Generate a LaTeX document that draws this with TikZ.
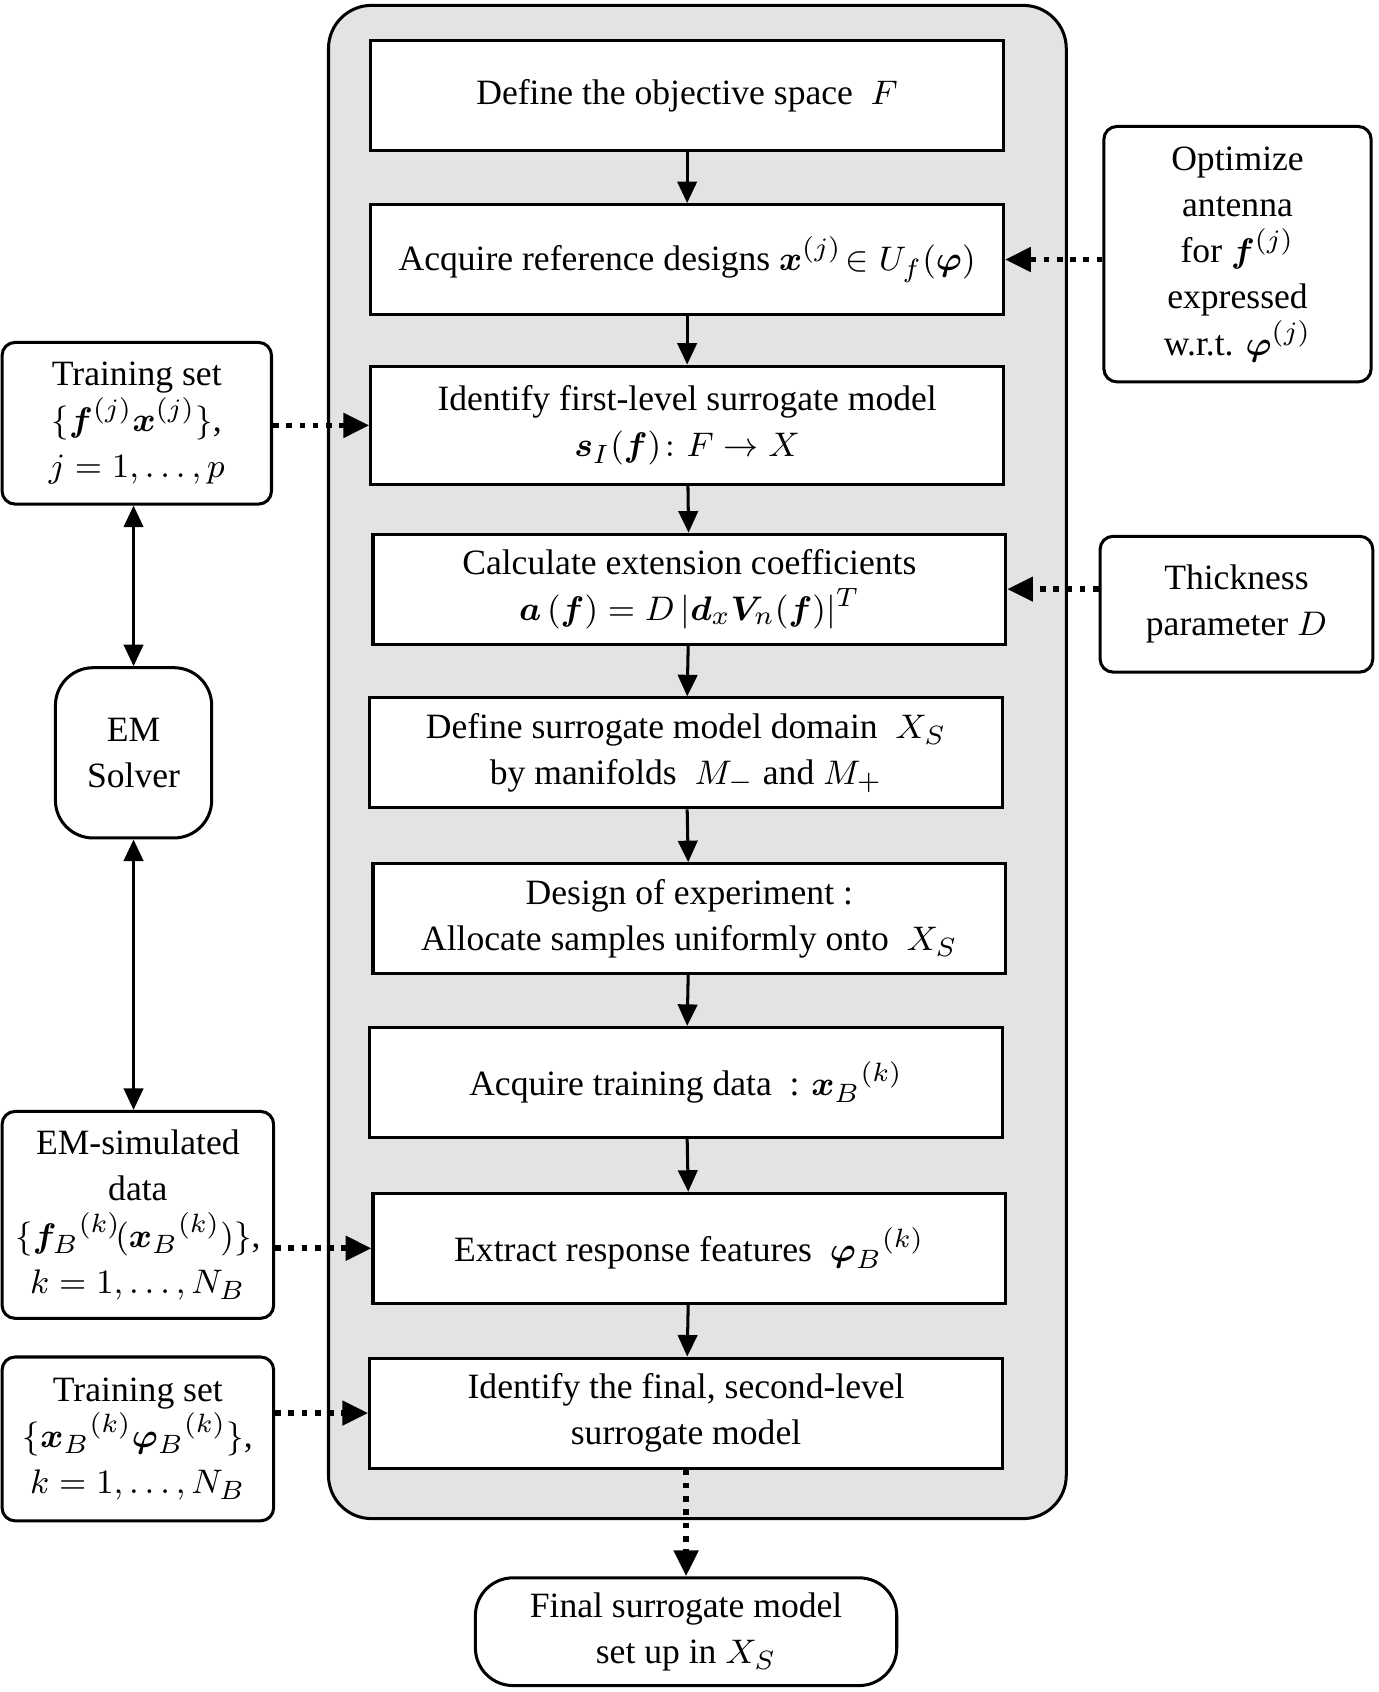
\documentclass[tikz,border=0pt]{standalone}
\usepackage{fontspec}
\setmainfont{Liberation Serif}
\usepackage{amsmath,bm}
\usetikzlibrary{arrows.meta}
\tikzset{
	box/.style={draw,thick,fill=white,align=center,minimum width=5.87cm,minimum height=1.02cm,font=\fontsize{9.4}{12.2}\selectfont},
	side/.style={draw,thick,fill=white,rounded corners=.12cm,align=center,font=\fontsize{9.4}{12.2}\selectfont},
	flow/.style={thick,-{Triangle[length=.2cm,width=.18cm]}},
	dotflow/.style={line width=1.5pt,dotted,-{Triangle[length=.24cm,width=.22cm]}},
	both/.style={thick,{Triangle[length=.2cm,width=.18cm]}-{Triangle[length=.2cm,width=.18cm]}}
}
\begin{document}
\begin{tikzpicture}[x=.01cm,y=-.01cm]
	\useasboundingbox (0,0) rectangle (1280,1571);
	\draw[thick,fill=gray!22,rounded corners=.4cm] (305,5) rectangle (990,1410);

	\node[box] (b1) at (638,89) {Define the objective space\enskip $F$};
	\node[box,inner xsep=1pt] (b2) at (638,241) {Acquire reference designs\ $\bm{x}^{(j)}\!\in U_f(\bm{\varphi})$};
	\node[box,minimum height=1.1cm] (b3) at (638,395) {Identify first-level surrogate model\\ $\bm{s}_I(\bm{f})\colon F\rightarrow X$};
	\node[box] (b4) at (640,547) {Calculate extension coefficients\\ $\bm{a}\,(\bm{f})=D\,|\bm{d}_x\bm{V}_n(\bm{f})|^T$};
	\node[box] (b5) at (637,699) {Define surrogate model domain\enskip $X_S$\\ by manifolds\enskip $M_{-}$ and $M_{+}$};
	\node[box] (b6) at (640,853) {Design of experiment :\\ Allocate samples uniformly onto\enskip $X_S$};
	\node[box] (b7) at (637,1005) {Acquire training data\enskip : $\bm{x}_B{}^{(k)}$};
	\node[box] (b8) at (640,1159) {Extract response features\enskip $\bm{\varphi}_B{}^{(k)}$};
	\node[box] (b9) at (637,1312) {Identify the final, second-level\\ surrogate model};
	\node[side,rounded corners=.35cm,minimum width=3.91cm,minimum height=1cm] (fin) at (637,1515) {Final surrogate model\\ set up in $X_S$};

	\node[side,minimum width=2.48cm,minimum height=2.37cm] (opt) at (1149,236) {Optimize\\ antenna\\ for $\bm{f}^{(j)}$\\ expressed\\ w.r.t. $\bm{\varphi}^{(j)}$};
	\node[side,minimum width=2.53cm,minimum height=1.26cm] (thk) at (1148,561) {Thickness\\ parameter $D$};

	\node[side,minimum width=2.5cm,minimum height=1.5cm] (ts1) at (127,393) {Training set\\ $\{\bm{f}^{(j)}\bm{x}^{(j)}\}$,\\ $j=1,\ldots,p$};
	\node[side,rounded corners=.35cm,minimum width=1.45cm,minimum height=1.58cm] (em) at (124,699) {EM\\ Solver};
	\node[side,inner xsep=1pt,minimum width=2.52cm,minimum height=1.92cm] (emd) at (128,1128) {EM-simulated\\ data\\ $\{\bm{f}_B{}^{(k)}\!(\bm{x}_B{}^{(k)})\}$,\\ $k=1,\ldots,N_B$};
	\node[side,minimum width=2.52cm,minimum height=1.52cm] (ts2) at (128,1336) {Training set\\ $\{\bm{x}_B{}^{(k)}\bm{\varphi}_B{}^{(k)}\}$,\\ $k=1,\ldots,N_B$};

	% main flow
	\foreach \a/\b in {b1/b2,b2/b3,b3/b4,b4/b5,b5/b6,b6/b7,b7/b8,b8/b9}
		\draw[flow] (\a) -- (\b);
	\draw[dotflow] (b9) -- (fin);

	% side inputs
	\draw[dotflow] (opt.west|-b2) -- (b2.east);
	\draw[dotflow] (thk.west|-b4) -- (b4.east);
	\draw[dotflow] (ts1.east|-b3) -- (b3.west);
	\draw[dotflow] (emd.east|-b8) -- (b8.west);
	\draw[dotflow] (ts2.east|-b9) -- (b9.west);
	\draw[both] (ts1.south-|em) -- (em.north);
	\draw[both] (em.south) -- (emd.north-|em);
\end{tikzpicture}
\end{document}
